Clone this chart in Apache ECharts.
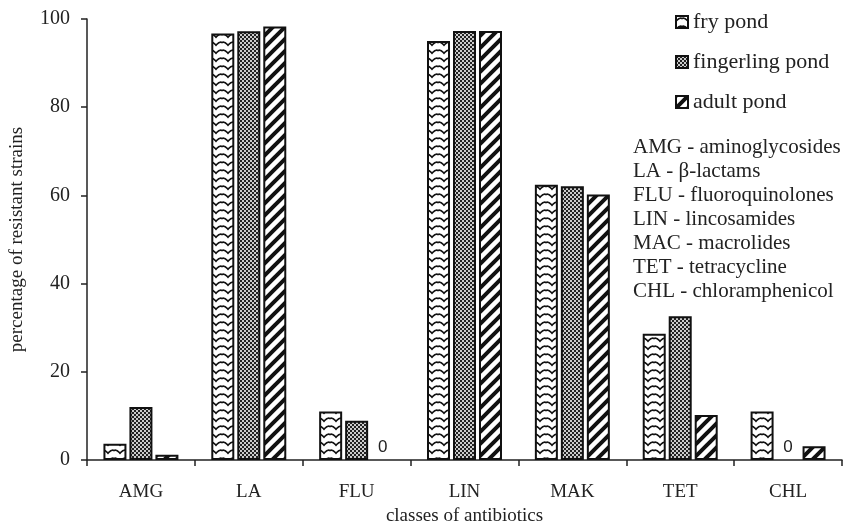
<!DOCTYPE html>
<html>
<head>
<meta charset="utf-8">
<script src="https://cdn.jsdelivr.net/npm/echarts@6/dist/echarts.min.js"></script>
<style>
html,body{margin:0;padding:0;background:#fff;}
#c{width:854px;height:525px;}
</style>
</head>
<body>
<div id="c"></div>
<script>
var categories = ['AMG', 'LA', 'FLU', 'LIN', 'MAK', 'TET', 'CHL'];
var fryPond = [3.7, 96.7, 11.0, 95.0, 62.4, 28.6, 11.0];
var fingerlingPond = [12.0, 97.2, 8.9, 97.3, 62.1, 32.6, 0];
var adultPond = [1.2, 98.3, 0, 97.3, 60.2, 10.2, 3.1];
var seriesNames = ['fry pond', 'fingerling pond', 'adult pond'];
var yTicks = [0, 20, 40, 60, 80, 100];
var abbreviations = [
  'AMG - aminoglycosides',
  'LA - \u03b2-lactams',
  'FLU - fluoroquinolones',
  'LIN - lincosamides',
  'MAC - macrolides',
  'TET - tetracycline',
  'CHL - chloramphenicol'
];

function makeTile(w, h, draw) {
  var c = document.createElement('canvas');
  c.width = w; c.height = h;
  var g = c.getContext('2d');
  g.fillStyle = '#fff';
  g.fillRect(0, 0, w, h);
  draw(g, w, h);
  return c;
}
var wavePat = makeTile(12, 8, function (g) {
  g.strokeStyle = '#111';
  g.lineWidth = 1.6;
  g.beginPath();
  g.moveTo(-1, 6.5);
  g.quadraticCurveTo(3, 1, 6, 2.5);
  g.quadraticCurveTo(9, 1, 13, 6.5);
  g.stroke();
});
var checkPat = makeTile(4, 4, function (g) {
  g.fillStyle = '#222';
  g.fillRect(0, 0, 2, 2);
  g.fillRect(2, 2, 2, 2);
  g.fillStyle = '#ccc';
  g.fillRect(2, 0, 2, 2);
  g.fillRect(0, 2, 2, 2);
});
var stripePat = makeTile(12, 12, function (g) {
  g.strokeStyle = '#111';
  g.lineWidth = 4;
  g.beginPath();
  for (var k = -2; k <= 2; k++) {
    g.moveTo(k * 12 - 2, 14);
    g.lineTo(k * 12 + 14, -2);
  }
  g.stroke();
});
var patterns = [wavePat, checkPat, stripePat];
var dataSets = [fryPond, fingerlingPond, adultPond];

var serif = '"Liberation Serif", "DejaVu Serif", serif';

var chart = echarts.init(document.getElementById('c'), null, {renderer: 'canvas'});

var series = dataSets.map(function (d, i) {
  return {
    name: seriesNames[i],
    type: 'bar',
    data: d.map(function (v) {
      return v === 0 ? {value: v, itemStyle: {borderWidth: 0, opacity: 0}} : v;
    }),
    barWidth: 23,
    barGap: '13%',
    itemStyle: {
      color: {image: patterns[i], repeat: 'repeat'},
      borderColor: '#111',
      borderWidth: 2
    },
    label: {
      show: true,
      position: 'top',
      distance: 4,
      opacity: 1,
      fontFamily: '"Liberation Sans", Arial, sans-serif',
      fontSize: 17,
      color: '#222',
      formatter: function (p) { return p.value === 0 ? '0' : ''; }
    }
  };
});

var option = {
  backgroundColor: '#fff',
  animation: false,
  grid: {left: 87, right: 12, top: 19, bottom: 65, containLabel: false, outerBoundsMode: 'none'},
  legend: {
    data: seriesNames,
    orient: 'vertical',
    left: 670,
    top: 6,
    itemWidth: 12,
    itemHeight: 12,
    itemGap: 18,
    icon: 'rect',
    textStyle: {fontFamily: serif, fontSize: 22, lineHeight: 22, color: '#222'}
  },
  xAxis: {
    type: 'category',
    data: categories,
    name: 'classes of antibiotics',
    nameLocation: 'middle',
    nameGap: 46,
    nameTextStyle: {fontFamily: serif, fontSize: 19, color: '#222'},
    axisLine: {lineStyle: {color: '#222', width: 1.5}},
    axisTick: {show: true, length: 6, lineStyle: {color: '#222', width: 1.5}},
    axisLabel: {fontFamily: serif, fontSize: 19, color: '#222', margin: 23}
  },
  yAxis: {
    type: 'value',
    min: yTicks[0],
    max: yTicks[yTicks.length - 1],
    interval: 20,
    name: 'percentage of resistant strains',
    nameLocation: 'middle',
    nameGap: 60,
    nameTextStyle: {fontFamily: serif, fontSize: 19, color: '#222'},
    splitLine: {show: false},
    axisLine: {show: true, lineStyle: {color: '#222', width: 1.5}},
    axisTick: {show: true, length: 6, lineStyle: {color: '#222', width: 1.5}},
    axisLabel: {fontFamily: serif, fontSize: 20, color: '#222', margin: 17}
  },
  graphic: abbreviations.map(function (t, i) {
    return {
      type: 'text',
      left: 633,
      top: 137 + i * 24,
      style: {text: t, fontFamily: serif, fontSize: 21, fill: '#222'}
    };
  }),
  series: series
};
chart.setOption(option);
</script>
</body>
</html>
